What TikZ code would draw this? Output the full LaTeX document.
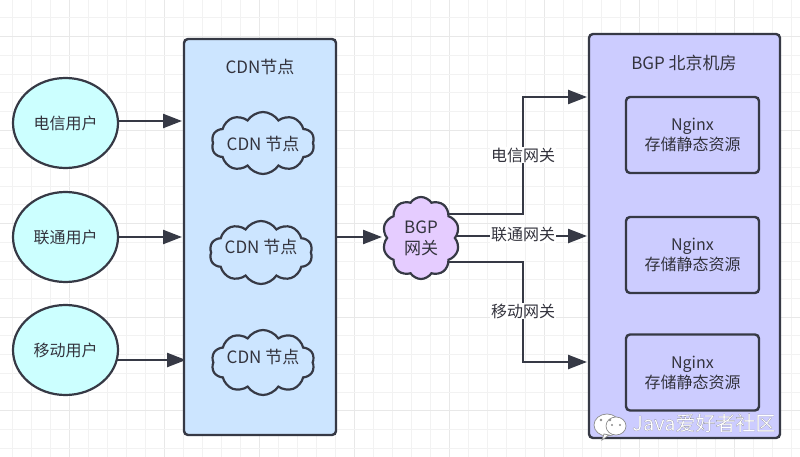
\documentclass[tikz,border=0pt]{standalone}
\usepackage{fontspec}
\setmainfont{Noto Sans CJK SC}
\newfontfamily\wmfont[FakeBold=0.2]{Noto Sans CJK SC}
\usetikzlibrary{shapes.symbols,shapes.geometric,arrows.meta,backgrounds}
\definecolor{ln}{HTML}{363945}
\definecolor{txt}{HTML}{33333D}
\definecolor{userfill}{HTML}{CCFFFF}
\definecolor{cdnfill}{HTML}{CCE5FF}
\definecolor{rightfill}{HTML}{CCCCFF}
\definecolor{bgpfill}{HTML}{E5CCFF}
\newcommand{\cloudlabel}[2]{\smash{\raisebox{#1}{\makebox[0pt]{#2}}}}
\tikzset{
  x=1pt,y=-1pt,
  every node/.style={text=txt,font=\fontsize{16}{20}\selectfont,align=center},
  bigtext/.style={font=\fontsize{17}{21}\selectfont},
  gridminor/.style={draw=black!5,line width=1pt},
  gridmajor/.style={draw=black!9,line width=1pt},
  user/.style={ellipse,draw=ln,line width=2.2pt,fill=userfill,minimum width=105pt,minimum height=90pt,inner sep=0pt},
  panelbox/.style={draw=ln,line width=2.4pt,rounded corners=4pt,inner sep=0pt},
  ngbox/.style={draw=ln,line width=2.4pt,rounded corners=4pt,fill=rightfill,minimum width=133pt,minimum height=76pt,inner sep=0pt},
  cloudnode/.style={cloud,cloud puffs=10,cloud puff arc=115,aspect=1.6,draw=ln,line width=2.2pt,inner sep=0pt,bigtext},
  link/.style={draw=ln,line width=2.4pt,-{Triangle[length=19pt,width=14pt]}},
  gw/.style={fill=white,inner sep=1pt}
}
\begin{document}
\begin{tikzpicture}
\useasboundingbox (0,0) rectangle (800,457);
\begin{pgfonlayer}{background}
\fill[white] (0,0) rectangle (800,457);
\foreach \i in {0,...,42}{
  \pgfmathtruncatemacro{\m}{mod(\i,5)}
  \pgfmathsetmacro{\xx}{12+19*\i}
  \ifnum\m=3 \draw[gridmajor] (\xx,0) -- (\xx,457); \else \draw[gridminor] (\xx,0) -- (\xx,457); \fi
}
\foreach \i in {0,...,24}{
  \pgfmathtruncatemacro{\m}{mod(\i,5)}
  \pgfmathsetmacro{\yy}{18+18.7*(\i-1)}
  \ifnum\m=2 \draw[gridmajor] (0,\yy) -- (800,\yy); \else \draw[gridminor] (0,\yy) -- (800,\yy); \fi
}
\end{pgfonlayer}

\node[panelbox,fill=cdnfill,minimum width=152pt,minimum height=396pt] (cdn) at (260,237) {};
\node[panelbox,fill=rightfill,minimum width=191pt,minimum height=404pt] (idc) at (684.5,236) {};
\node[bigtext] (cdnt) at (260,67) {CDN节点};
\node[bigtext] (idct) at (684,63) {BGP 北京机房};

\node[user] (u1) at (65.5,123) {电信用户};
\node[user] (u2) at (65.5,237) {联通用户};
\node[user] (u3) at (65.5,350) {移动用户};

\node[cloudnode,fill=cdnfill,minimum width=103pt,minimum height=62pt] (c1) at (263,143) {\cloudlabel{-8pt}{CDN 节点}};
\node[cloudnode,fill=cdnfill,minimum width=103pt,minimum height=63pt] (c2) at (261,252.5) {\cloudlabel{-1pt}{CDN 节点}};
\node[cloudnode,fill=cdnfill,minimum width=103pt,minimum height=65pt] (c3) at (263,362.5) {\cloudlabel{-1pt}{CDN 节点}};
\node[cloudnode,fill=bgpfill,aspect=1,minimum width=77pt,minimum height=82pt] (bgp) at (421,238) {BGP\\网关};

\node[ngbox] (n1) at (692.5,135) {Nginx\\存储静态资源};
\node[ngbox] (n2) at (692.5,255) {Nginx\\存储静态资源};
\node[ngbox] (n3) at (692.5,372.5) {Nginx\\存储静态资源};

\coordinate (a1) at (182,121);
\coordinate (a2) at (182,237);
\coordinate (a3) at (186,360);
\coordinate (a4) at (382,237);
\coordinate (b1) at (587,97);
\coordinate (b2) at (587,236);
\coordinate (b3) at (587,362);
\coordinate (e1) at (523,214);
\coordinate (e3) at (523,262);

\begin{pgfonlayer}{background}
\draw[link] (u1.center |- a1) -- (a1);
\draw[link] (u2.center |- a2) -- (a2);
\draw[link] (u3.center |- a3) -- (a3);
\draw[link] (cdn.center |- a4) -- (a4);
\draw[link] (bgp.center |- e1) -- (e1) |- (b1);
\draw[link] (bgp.center |- b2) -- (b2);
\draw[link] (bgp.center |- e3) -- (e3) |- (b3);
\end{pgfonlayer}
\node[gw] (g1) at (523,155) {电信网关};
\node[gw] (g2) at (523,235) {联通网关};
\node[gw] (g3) at (523,311) {移动网关};

\path[fill=white,draw=black!45,line width=.7pt] (607,425) ellipse (13pt and 11pt);
\path[fill=white,draw=black!45,line width=.7pt] (604,434) -- (602,440) -- (609,435) -- cycle;
\path[fill=white,draw=black!45,line width=.7pt] (616,426) ellipse (10pt and 9pt);
\foreach \p/\q in {601/420,610/420}{\fill[black!45] (\p,\q) circle (1.3pt);}
\foreach \p/\q in {612/425,620/425}{\fill[black!45] (\p,\q) circle (1.1pt);}
\node[anchor=west,inner sep=0pt] (wm) at (632,423) {\wmfont\fontsize{20}{22}\selectfont\color{white}\pgfsetstrokecolor{black!60}Java爱好者社区};
\end{tikzpicture}
\end{document}
